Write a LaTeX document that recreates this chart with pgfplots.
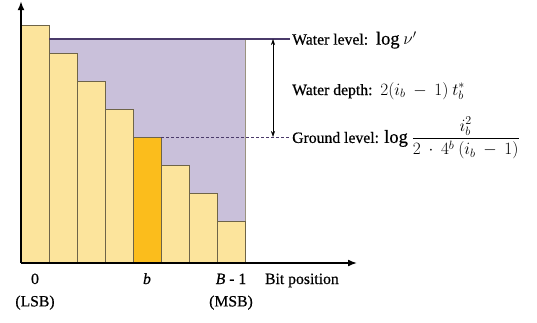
\documentclass[border=0pt]{standalone}
\usepackage{fontspec}
\setmainfont{Liberation Serif}[FakeBold=0.6]
\usepackage{pgfplots}
\pgfplotsset{compat=1.18}
\usetikzlibrary{arrows.meta}

\definecolor{barfill}{HTML}{FCE49C}
\definecolor{barhi}{HTML}{FBBD1C}
\definecolor{baredge}{HTML}{6E6448}
\definecolor{water}{HTML}{C9C0DA}
\definecolor{waterline}{HTML}{4A3A6A}

% formulas are set a little larger and looser than the running text
\newcommand{\bigmath}[1]{{\fontsize{18.5}{22}\selectfont\medmuskip=8mu\thinmuskip=4mu$#1$}}

\begin{document}
\begin{tikzpicture}[font=\fontsize{15.7}{19}\selectfont]
\path[use as bounding box] (-21pt,-59pt) rectangle (516pt,263pt);
\begin{axis}[
  at={(0,0)}, anchor=origin,
  x=28pt, y=28pt,
  xmin=0, xmax=12, ymin=0, ymax=9.3,
  axis lines=none,
  clip=false,
]
% water body between the water level and the bar tops
\addplot[fill=water, draw=none] coordinates {(1,8) (8,8)} \closedcycle;
\addplot[baredge!70, line width=0.5pt] coordinates {(8,1.5) (8,8)};

% bit-position bars
\addplot[ybar, bar shift=0pt, bar width=1, fill=barfill, draw=baredge, line width=0.6pt]
  coordinates {(0.5,8.5) (1.5,7.5) (2.5,6.5) (3.5,5.5) (5.5,3.5) (6.5,2.5) (7.5,1.5)};
\addplot[ybar, bar shift=0pt, bar width=1, fill=barhi, draw=baredge, line width=0.6pt]
  coordinates {(4.5,4.5)};

% axes with arrow heads
\draw[line width=1.6pt, -{Latex[length=9pt,width=7pt]}] (axis cs:0,0) -- (axis cs:12,0);
\draw[line width=1.6pt, -{Latex[length=9pt,width=7pt]}] (axis cs:0,0) -- (axis cs:0,9.35);

% water level and ground level
\addplot[waterline, line width=1.4pt] coordinates {(1,8) (9.6,8)};
\addplot[waterline, line width=1pt, dash pattern=on 3pt off 2pt] coordinates {(5,4.5) (9.6,4.5)};
\addplot[black, line width=0.6pt, {Stealth[length=6pt,width=4pt]}-{Stealth[length=6pt,width=4pt]}]
  coordinates {(9,8) (9,4.5)};

% annotations
\begin{scope}[every node/.style={inner sep=0pt}]
\node[anchor=base west] at (axis cs:9.68,7.80) {Water level:\enspace\bigmath{\log\nu'}};
\node[anchor=base west] at (axis cs:9.68,6.00) {Water depth:\enspace\bigmath{2(i_b-1)\,t_b^*}};
\node[anchor=base west] at (axis cs:9.68,4.29)
  {Ground level: \bigmath{\log\displaystyle\frac{i_b^2}{2\cdot 4^b\,(i_b-1)}}};

\node[anchor=base] at (axis cs:0.5,-0.75) {0};
\node[anchor=base] at (axis cs:4.5,-0.75) {\itshape b};
\node[anchor=base] at (axis cs:7.5,-0.75) {\textit{B} - 1};
\node[anchor=base] at (axis cs:0.5,-1.55) {(LSB)};
\node[anchor=base] at (axis cs:7.5,-1.55) {(MSB)};
\node[anchor=base west] at (axis cs:8.71,-0.75) {Bit position};
\end{scope}
\end{axis}
\end{tikzpicture}
\end{document}
